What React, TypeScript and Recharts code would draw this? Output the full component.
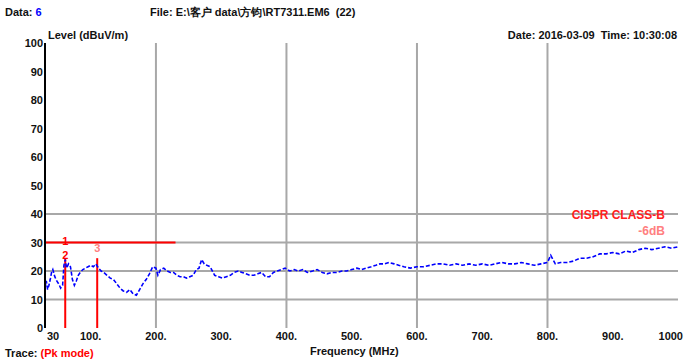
import React from "react";
import {
  LineChart,
  Line,
  XAxis,
  YAxis,
  ReferenceLine,
  ReferenceDot,
} from "recharts";

// trace, MHz / dBuV/m
const freqs = [
  30, 32, 34, 36, 38, 40, 42, 45, 48, 51, 54, 57, 59, 61, 63, 66, 69, 72, 75, 78,
  81, 84, 88, 92, 96, 100, 104, 108, 112, 116, 120, 125, 130, 135, 140, 145, 150,
  155, 160, 165, 170, 175, 180, 185, 190, 195, 200, 203, 207, 212, 217, 222, 227,
  232, 237, 242, 247, 252, 257, 262, 266, 270, 274, 278, 283, 290, 296, 302, 308,
  314, 320, 326, 332, 338, 344, 350, 356, 362, 368, 374, 380, 386, 392, 398, 405,
  412, 418, 425, 432, 440, 447, 455, 462, 470, 478, 485, 492, 500, 508, 515, 522,
  530, 537, 543, 550, 557, 565, 572, 580, 590, 600, 610, 620, 630, 640, 650, 660,
  670, 680, 690, 700, 710, 720, 730, 740, 750, 760, 770, 780, 790, 800, 805, 812,
  820, 830, 840, 850, 860, 870, 880, 890, 900, 910, 920, 930, 940, 950, 960, 970,
  980, 990, 1000,
];
const levels = [
  14, 16.5, 13.5, 15, 17, 19.5, 20.5, 18, 16.5, 15.5, 14, 15, 22, 24, 21, 22.5,
  21.5, 17, 15, 16.5, 18.5, 19.5, 20.5, 21, 21.5, 22, 21.5, 22.5, 21, 20, 19.5,
  18.5, 17.5, 17, 15.5, 14, 13, 12.5, 13.5, 12, 11.5, 13.5, 15.5, 17, 19, 21.5, 21,
  18.5, 20.5, 21, 20, 19.5, 19.5, 18.5, 18, 18, 17.5, 18, 18.5, 20.5, 21, 24, 22.5,
  22, 21.5, 18.5, 18, 17.5, 18, 18.5, 19.5, 20, 19.5, 19, 18.5, 18.5, 19, 19.5, 18,
  18, 19.5, 20, 20.5, 21, 20, 20.5, 20, 20.5, 19.5, 20, 20.5, 19.5, 19, 19.5, 19.5,
  20, 20, 20.5, 21, 20.5, 21, 21.5, 22, 22.5, 22.5, 23, 22.5, 22, 21.5, 21, 21.5,
  21.5, 22, 22.5, 22.5, 22, 22.5, 22, 22.5, 22, 22.5, 22, 22.5, 23, 22.5, 22.5, 23,
  22.5, 22, 22.5, 23, 25.5, 22.5, 23, 23, 23.5, 24.5, 24.5, 25, 26, 26, 26.5, 26,
  27, 26.5, 27.5, 28, 27.5, 28, 28.5, 28, 28.5,
];

const xTicks = [30, 100, 200, 300, 400, 500, 600, 700, 800, 900, 1000];
const yTicks = [0, 10, 20, 30, 40, 50, 60, 70, 80, 90, 100];
const gridX = [200, 400, 600, 800];
const gridY = [10, 20, 30, 40];

// limit segment and markers
const limitLevel = 30;
const limitEnd = 230;
const markerFreqs = [61, 110];
const markerTop = 24.5;
const markerLabels = [
  { name: "1", freq: 61, level: 30.6, color: "#ff0000" },
  { name: "2", freq: 61, level: 25.6, color: "#ff0000" },
  { name: "3", freq: 110, level: 28, color: "#ff8080" },
];

const data = freqs.map((f, i) => ({ freq: f, level: levels[i] }));

const FONT = "'Liberation Sans', Arial, sans-serif";

const XTick = (props: any) => {
  const { x, y, payload, index } = props;
  const v = payload.value;
  const label = v === 30 || v === 1000 ? String(v) : `${v}.`;
  let anchor: "start" | "middle" | "end" = "middle";
  let dx = 0;
  if (index === 0) {
    anchor = "start";
    dx = 2;
  } else if (v === 1000) {
    anchor = "end";
    dx = 5;
  }
  return (
    <text
      x={x + dx}
      y={y + 12}
      textAnchor={anchor}
      fontSize={11}
      fontWeight="bold"
      fontFamily={FONT}
      fill="#111"
    >
      {label}
    </text>
  );
};

const YTick = (props: any) => {
  const { x, y, payload } = props;
  return (
    <text
      x={x}
      y={y + 4}
      textAnchor="end"
      fontSize={11}
      fontWeight="bold"
      fontFamily={FONT}
      fill="#111"
    >
      {payload.value}
    </text>
  );
};

const txt: React.CSSProperties = {
  position: "absolute",
  fontFamily: FONT,
  fontSize: 11,
  fontWeight: "bold",
  color: "#111",
  whiteSpace: "nowrap",
  lineHeight: "13px",
};

export default function App() {
  return (
    <div
      style={{
        position: "absolute",
        left: 0,
        top: 0,
        width: 685,
        height: 361,
        overflow: "hidden",
        background: "#fff",
      }}
    >
      <LineChart
        width={685}
        height={361}
        data={data}
        margin={{ top: 43, right: 7, bottom: 13, left: 0 }}
      >
        <XAxis
          dataKey="freq"
          type="number"
          domain={[30, 1000]}
          ticks={xTicks}
          interval={0}
          axisLine={false}
          tickLine={false}
          tickSize={0}
          tickMargin={0}
          height={20}
          tick={<XTick />}
        />
        <YAxis
          type="number"
          domain={[0, 100]}
          ticks={yTicks}
          interval={0}
          width={45}
          axisLine={{ stroke: "#000", strokeWidth: 2 }}
          tickLine={false}
          tickSize={0}
          tickMargin={2}
          tick={<YTick />}
        />
        {gridY.map((v) => (
          <ReferenceLine key={`gy${v}`} y={v} stroke="#a8a8a8" strokeWidth={2} />
        ))}
        {gridX.map((v) => (
          <ReferenceLine key={`gx${v}`} x={v} stroke="#a8a8a8" strokeWidth={2} />
        ))}
        <ReferenceLine
          segment={[
            { x: 30, y: limitLevel },
            { x: limitEnd, y: limitLevel },
          ]}
          stroke="#ff0000"
          strokeWidth={2}
        />
        {markerFreqs.map((f) => (
          <ReferenceLine
            key={`m${f}`}
            segment={[
              { x: f, y: 0 },
              { x: f, y: markerTop },
            ]}
            stroke="#ff0000"
            strokeWidth={2}
          />
        ))}
        <Line
          dataKey="level"
          stroke="#0000ff"
          strokeWidth={1.6}
          strokeDasharray="4 2"
          dot={false}
          isAnimationActive={false}
        />
        {markerLabels.map((m) => (
          <ReferenceDot
            key={`ml${m.name}`}
            x={m.freq}
            y={m.level}
            r={0}
            fill="none"
            stroke="none"
            label={{
              value: m.name,
              fill: m.color,
              fontSize: 11,
              fontWeight: "bold",
              fontFamily: FONT,
              position: "center",
            }}
          />
        ))}
      </LineChart>

      <div style={{ ...txt, left: 5, top: 6 }}>
        Data: <span style={{ color: "#0000ff" }}>6</span>
      </div>
      <div style={{ ...txt, left: 150, top: 6 }}>
        File: E:\客户 data\方钧\RT7311.EM6&nbsp;&nbsp;(22)
      </div>
      <div style={{ ...txt, left: 48, top: 29 }}>Level (dBuV/m)</div>
      <div style={{ ...txt, right: 8, top: 29 }}>
        Date: 2016-03-09&nbsp;&nbsp;Time: 10:30:08
      </div>
      <div style={{ ...txt, right: 20, top: 209, color: "#ff2020", fontSize: 12 }}>
        CISPR CLASS-B
      </div>
      <div style={{ ...txt, right: 20, top: 225, color: "#ff8080", fontSize: 12 }}>
        -6dB
      </div>
      <div style={{ ...txt, left: 310, top: 345 }}>Frequency (MHz)</div>
      <div style={{ ...txt, left: 5, top: 347 }}>
        Trace: <span style={{ color: "#ff0000" }}>(Pk mode)</span>
      </div>
    </div>
  );
}
